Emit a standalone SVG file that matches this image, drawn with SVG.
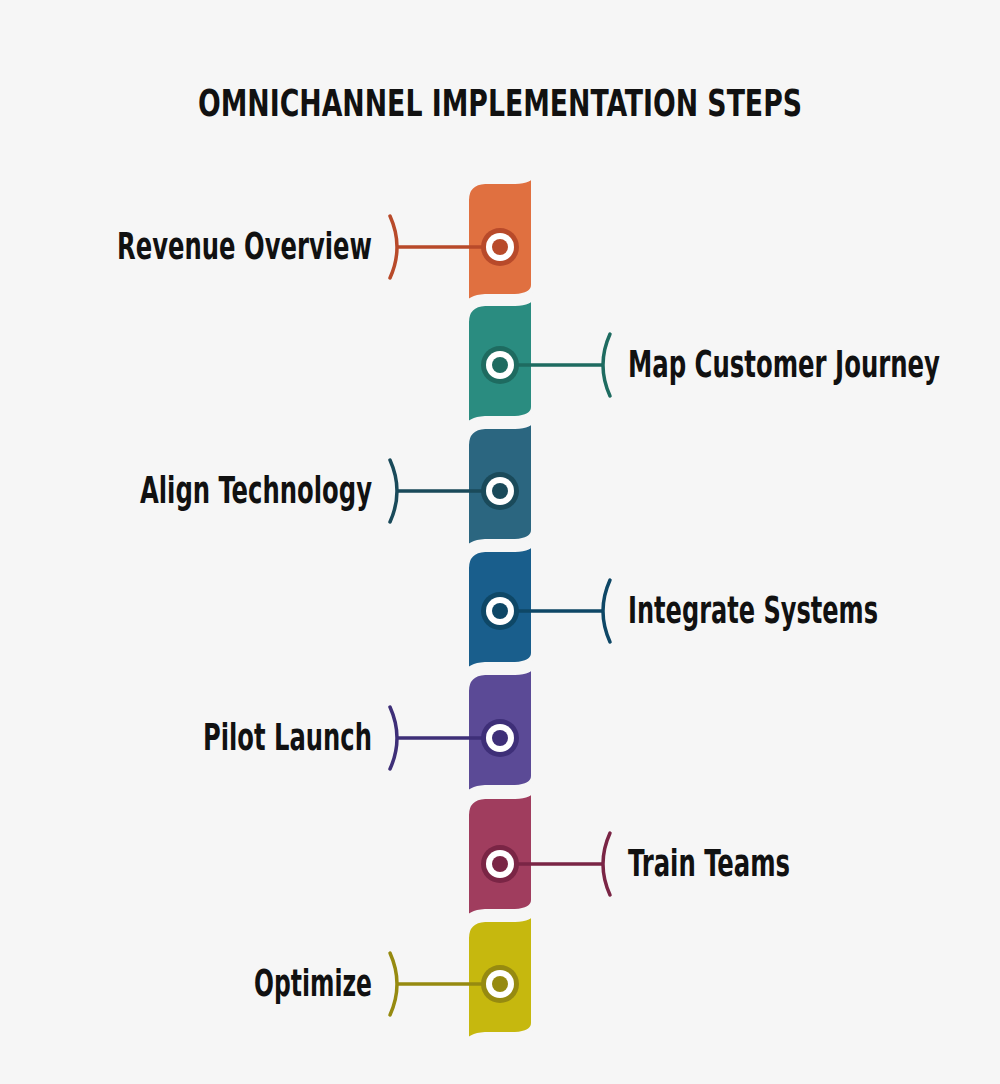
<svg xmlns="http://www.w3.org/2000/svg" width="1000" height="1084" viewBox="0 0 1000 1084">
<style>
.t{font-family:"DejaVu Sans Condensed","Liberation Sans",sans-serif;font-weight:bold;font-size:38px;fill:#111}
.seg{stroke:#f6f6f6;stroke-width:4}
.ln{fill:none;stroke-width:3.5;stroke-linecap:round}
</style>
<defs>
<path id="s" d="M467,25 Q467,8 485,7 L515,7 Q531,6 533,0 L533,110 Q533,120 515,121 L485,121 Q469,122 467,130 Z"/>
</defs>
<rect width="1000" height="1084" fill="#f6f6f6"/>
<text class="t" x="500" y="116" text-anchor="middle" textLength="604" lengthAdjust="spacingAndGlyphs">OMNICHANNEL IMPLEMENTATION STEPS</text>
<g id="segments">
<use href="#s" class="seg" fill="#E07040" transform="translate(0,175)"/>
<use href="#s" class="seg" fill="#2A8C80" transform="translate(0,297)"/>
<use href="#s" class="seg" fill="#2B6680" transform="translate(0,420)"/>
<use href="#s" class="seg" fill="#195E8C" transform="translate(0,543)"/>
<use href="#s" class="seg" fill="#5B4A96" transform="translate(0,666)"/>
<use href="#s" class="seg" fill="#A03D5E" transform="translate(0,790)"/>
<use href="#s" class="seg" fill="#C6B80E" transform="translate(0,913)"/>
</g>
<g id="connectors">
<g stroke="#B84A2A"><path class="ln" d="M398,247 H484"/><path class="ln" d="M390,216 Q404,247 390,278"/></g>
<g stroke="#1E6B60"><path class="ln" d="M516,365 H602"/><path class="ln" d="M610,334 Q596,365 610,396"/></g>
<g stroke="#1A4A5A"><path class="ln" d="M398,491 H484"/><path class="ln" d="M390,460 Q404,491 390,522"/></g>
<g stroke="#0E4766"><path class="ln" d="M516,611 H602"/><path class="ln" d="M610,580 Q596,611 610,642"/></g>
<g stroke="#3E2F78"><path class="ln" d="M398,738 H484"/><path class="ln" d="M390,707 Q404,738 390,769"/></g>
<g stroke="#7A2545"><path class="ln" d="M516,864 H602"/><path class="ln" d="M610,833 Q596,864 610,895"/></g>
<g stroke="#968A10"><path class="ln" d="M398,984 H484"/><path class="ln" d="M390,953 Q404,984 390,1015"/></g>
</g>
<g id="n1"><circle cx="500" cy="247" r="19" fill="#B84A2A"/><circle cx="500" cy="247" r="14" fill="#fff"/><circle cx="500" cy="247" r="8" fill="#B84A2A"/><text class="t" x="372" y="259" text-anchor="end" textLength="255" lengthAdjust="spacingAndGlyphs">Revenue Overview</text></g>
<g id="n2"><circle cx="500" cy="365" r="19" fill="#1E6B60"/><circle cx="500" cy="365" r="14" fill="#fff"/><circle cx="500" cy="365" r="8" fill="#1E6B60"/><text class="t" x="628" y="377" textLength="312" lengthAdjust="spacingAndGlyphs">Map Customer Journey</text></g>
<g id="n3"><circle cx="500" cy="491" r="19" fill="#1A4A5A"/><circle cx="500" cy="491" r="14" fill="#fff"/><circle cx="500" cy="491" r="8" fill="#1A4A5A"/><text class="t" x="372" y="503" text-anchor="end" textLength="232" lengthAdjust="spacingAndGlyphs">Align Technology</text></g>
<g id="n4"><circle cx="500" cy="611" r="19" fill="#0E4766"/><circle cx="500" cy="611" r="14" fill="#fff"/><circle cx="500" cy="611" r="8" fill="#0E4766"/><text class="t" x="628" y="623" textLength="250" lengthAdjust="spacingAndGlyphs">Integrate Systems</text></g>
<g id="n5"><circle cx="500" cy="738" r="19" fill="#3E2F78"/><circle cx="500" cy="738" r="14" fill="#fff"/><circle cx="500" cy="738" r="8" fill="#3E2F78"/><text class="t" x="372" y="750" text-anchor="end" textLength="169" lengthAdjust="spacingAndGlyphs">Pilot Launch</text></g>
<g id="n6"><circle cx="500" cy="864" r="19" fill="#7A2545"/><circle cx="500" cy="864" r="14" fill="#fff"/><circle cx="500" cy="864" r="8" fill="#7A2545"/><text class="t" x="628" y="876" textLength="162" lengthAdjust="spacingAndGlyphs">Train Teams</text></g>
<g id="n7"><circle cx="500" cy="984" r="19" fill="#968A10"/><circle cx="500" cy="984" r="14" fill="#fff"/><circle cx="500" cy="984" r="8" fill="#968A10"/><text class="t" x="372" y="996" text-anchor="end" textLength="118" lengthAdjust="spacingAndGlyphs">Optimize</text></g>
</svg>
